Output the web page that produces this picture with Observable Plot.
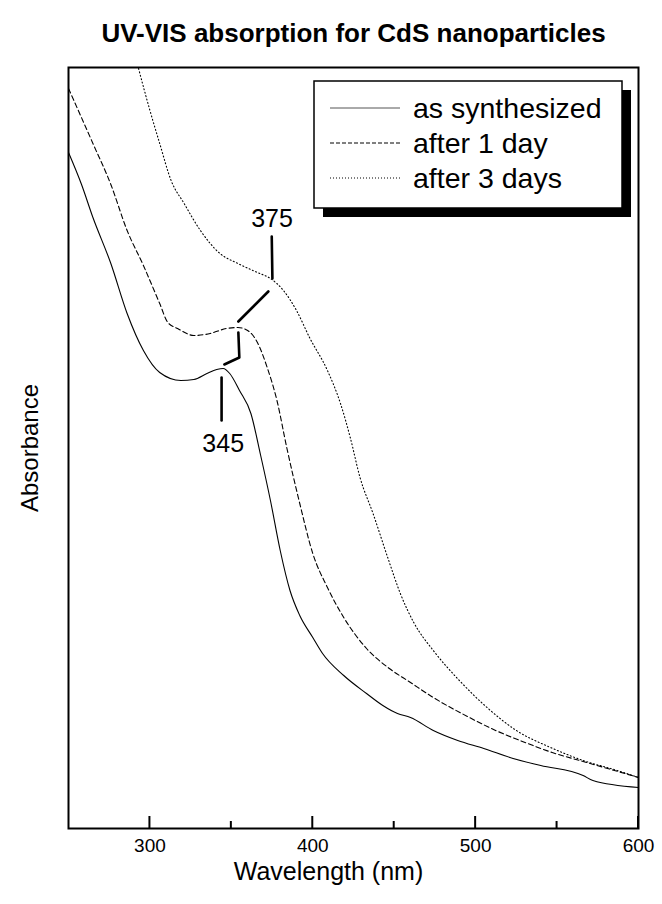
<!DOCTYPE html>
<html>
<head>
<meta charset="utf-8">
<script src="https://cdn.jsdelivr.net/npm/d3@7"></script>
<script src="https://cdn.jsdelivr.net/npm/@observablehq/plot@0.6"></script>
<style>
  body { margin: 0; background: #fff; }
  svg { display: block; }
</style>
</head>
<body>
<div id="chart"></div>
<script>
// ---- Data (absorbance in arbitrary units) ----
const seriesNames = ["as synthesized", "after 1 day", "after 3 days"];

const wlSynth  = [250, 258, 265, 276, 286, 296, 306, 319, 327, 335, 341, 345, 349, 355, 362, 368, 374, 380, 386, 392, 400, 406, 419, 433, 443, 452, 460, 474, 489, 505, 523, 540, 566, 572, 600];
const absSynth = [6.76, 6.44, 6.11, 5.65, 5.15, 4.78, 4.56, 4.48, 4.49, 4.55, 4.59, 4.60, 4.55, 4.38, 4.15, 3.73, 3.28, 2.78, 2.38, 2.13, 1.91, 1.75, 1.53, 1.35, 1.23, 1.15, 1.11, 0.98, 0.88, 0.80, 0.70, 0.63, 0.53, 0.48, 0.41];

const wl1Day  = [250, 265, 276, 286, 296, 306, 311, 317, 327, 337, 347, 354, 360, 366, 372, 378, 384, 392, 400, 409, 419, 433, 447, 460, 474, 495, 511, 532, 547, 566, 581, 600];
const abs1Day = [7.40, 6.85, 6.44, 5.98, 5.63, 5.25, 5.06, 5.00, 4.93, 4.95, 5.00, 5.01, 4.98, 4.86, 4.61, 4.28, 3.81, 3.25, 2.75, 2.41, 2.11, 1.80, 1.60, 1.46, 1.31, 1.12, 0.99, 0.85, 0.76, 0.67, 0.60, 0.51];

const wl3Days  = [293, 300, 306, 313, 321, 331, 343, 354, 366, 374, 382, 390, 398, 409, 417, 423, 429, 437, 446, 454, 462, 474, 490, 507, 525, 546, 566, 587, 600];
const abs3Days = [7.60, 7.18, 6.85, 6.48, 6.25, 5.98, 5.75, 5.65, 5.56, 5.50, 5.38, 5.18, 4.91, 4.58, 4.25, 3.91, 3.51, 3.15, 2.71, 2.34, 2.06, 1.78, 1.48, 1.21, 0.98, 0.81, 0.68, 0.58, 0.51];

const xTicksMajor = [300, 400, 500, 600];
const xTicksMinor = [350, 450, 550];
const xTickLabels = ["300", "400", "500", "600"];

// Peak annotations
const peakLabels   = ["345", "375"];
const peakLabelWl  = [345, 375];
const peakLabelAbs = [3.85, 6.10];

// Annotation leader lines (segment id, wavelength, absorbance)
const annSeg = ["a", "a", "b", "b", "b", "c", "c", "d", "d"];
const annWl  = [344, 344, 345.7, 354.9, 354.3, 354.3, 372.7, 375.2, 374.8];
const annAbs = [4.51, 4.08, 4.64, 4.71, 4.96, 5.07, 5.37, 5.50, 5.92];

const titleText = "UV-VIS absorption for CdS nanoparticles";
const xLabel = "Wavelength (nm)";
const yLabel = "Absorbance";

// ---- Build tables ----
const dashes = ["none", "5,3", "1,2.5"];
const legendDashes = ["none", "4,2", "1,2"];
const wlArrays = [wlSynth, wl1Day, wl3Days];
const absArrays = [absSynth, abs1Day, abs3Days];
const rows = seriesNames.flatMap((s, i) => wlArrays[i].map((w, j) => ({series: s, wl: w, abs: absArrays[i][j]})));
const annRows = annSeg.map((s, i) => ({seg: s, wl: annWl[i], abs: annAbs[i]}));
const peakRows = peakLabels.map((t, i) => ({text: t, wl: peakLabelWl[i], abs: peakLabelAbs[i]}));
const tickRows = [
  ...xTicksMajor.map(v => ({v, major: true})),
  ...xTicksMinor.map(v => ({v, major: false}))
];

const font = "'Liberation Sans', Arial, Helvetica, sans-serif";

const W = 662, H = 904, mT = 67, mB = 76, mL = 68, mR = 24;
const majorTick = 12, minorTick = 7;

function legendMark(index, scales, values, dims) {
  const g = d3.create("svg:g").attr("font-family", font);
  const right = dims.width - dims.marginRight;
  const top = dims.marginTop;
  const bw = 308, bh = 127;
  const bx = right - 324, by = top + 14;
  g.append("rect").attr("x", bx + 9).attr("y", by + 9).attr("width", bw).attr("height", bh).attr("fill", "black");
  g.append("rect").attr("x", bx).attr("y", by).attr("width", bw).attr("height", bh)
    .attr("fill", "white").attr("stroke", "black").attr("stroke-width", 1.5);
  seriesNames.forEach((name, i) => {
    const cy = by + 27 + i * 35;
    g.append("line").attr("x1", bx + 16).attr("x2", bx + 86).attr("y1", cy).attr("y2", cy)
      .attr("stroke", i === 0 ? "#555" : "black").attr("stroke-width", 1)
      .attr("stroke-dasharray", legendDashes[i]);
    g.append("text").attr("x", bx + 99).attr("y", cy).attr("dy", "0.35em")
      .attr("text-anchor", "start")
      .attr("font-size", 28.5).attr("fill", "black").text(name);
  });
  return g.node();
}

// Inward-pointing x ticks drawn from the x scale
function ticksMark(index, scales, values, dims) {
  const g = d3.create("svg:g").attr("stroke", "black").attr("stroke-width", 2);
  const bottom = dims.height - dims.marginBottom;
  tickRows.forEach(t => {
    const px = scales.x(t.v);
    g.append("line").attr("x1", px).attr("x2", px)
      .attr("y1", bottom).attr("y2", bottom - (t.major ? majorTick : minorTick));
  });
  return g.node();
}

const plot = Plot.plot({
  width: W,
  height: H,
  marginTop: mT,
  marginBottom: mB,
  marginLeft: mL,
  marginRight: mR,
  style: {fontFamily: font, background: "white", color: "black"},
  x: {domain: [250, 600], label: null, axis: null},
  y: {domain: [0, 7.61], label: null, axis: null},
  marks: [
    ...seriesNames.map((s, i) => Plot.line(rows.filter(d => d.series === s), {
      x: "wl", y: "abs", stroke: "black", strokeWidth: 1.1,
      strokeDasharray: dashes[i], curve: "monotone-x"
    })),
    Plot.line(annRows, {x: "wl", y: "abs", z: "seg", stroke: "black", strokeWidth: 2.6}),
    Plot.text(peakRows, {x: "wl", y: "abs", text: "text", fontSize: 25, fill: "black"}),
    ticksMark,
    Plot.text(xTicksMajor, {x: d => d, text: (d, i) => xTickLabels[i], frameAnchor: "bottom", dy: 17, lineAnchor: "middle", fontSize: 19, fill: "black"}),
    Plot.frame({stroke: "black", strokeWidth: 2}),
    Plot.text([titleText], {frameAnchor: "top", dy: -34, lineAnchor: "middle", fontWeight: "bold", fontSize: 26, fill: "black"}),
    Plot.text([xLabel], {frameAnchor: "bottom", dy: 43, dx: -25, lineAnchor: "middle", fontSize: 25, fill: "black"}),
    Plot.text([yLabel], {frameAnchor: "left", dx: -38, rotate: -90, textAnchor: "middle", lineAnchor: "middle", fontSize: 24, fill: "black"}),
    legendMark
  ]
});
document.getElementById("chart").appendChild(plot);
</script>
</body>
</html>
